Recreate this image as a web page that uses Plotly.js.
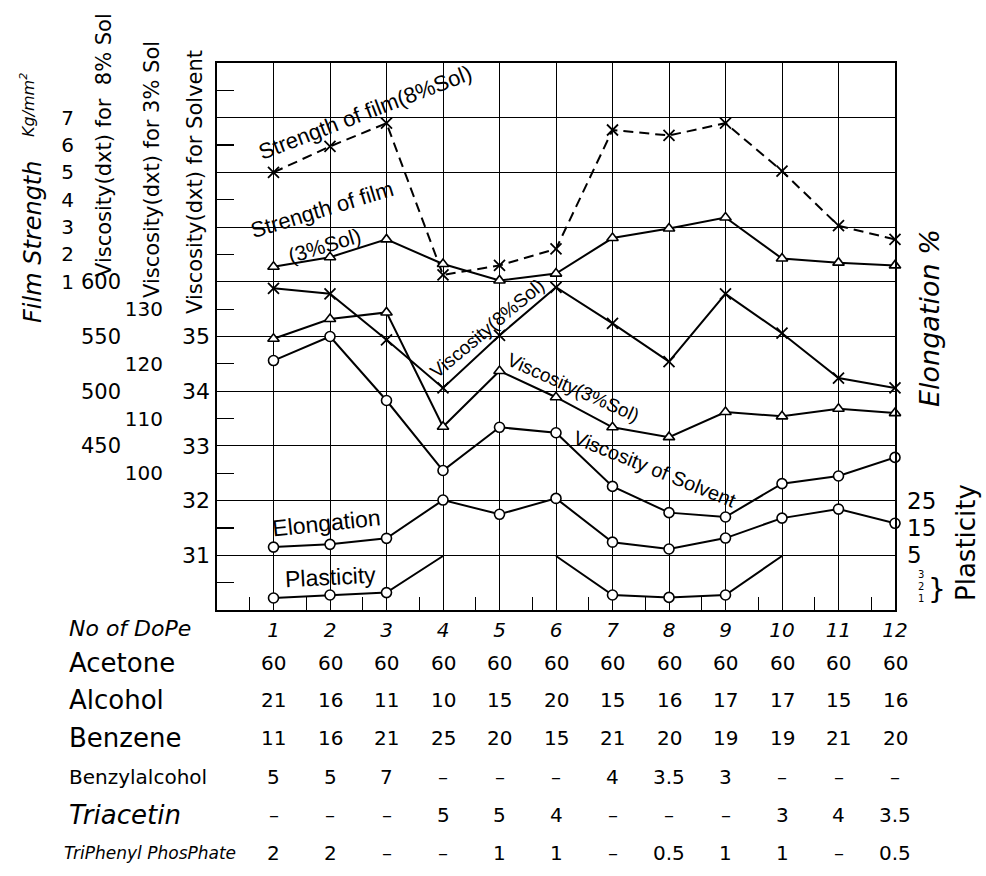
<!DOCTYPE html>
<html>
<head>
<meta charset="utf-8">
<script src="https://cdn.plot.ly/plotly-3.0.1.min.js"></script>
<style>html,body{margin:0;padding:0;background:#fff;}</style>
</head>
<body>
<div id="chart" style="width:986px;height:876px;"></div>
<script>
// ---------- data ----------
const dope = [1,2,3,4,5,6,7,8,9,10,11,12];
const strength8 = [5.0, 5.95, 6.8, 1.25, 1.6, 2.2, 6.55, 6.35, 6.8, 5.05, 3.05, 2.55];   // Kg/mm2
const strength3 = [1.55, 1.9, 2.55, 1.65, 1.05, 1.3, 2.6, 2.95, 3.35, 1.85, 1.7, 1.6];   // Kg/mm2
const visc8 = [594, 589, 547, 503, 551, 595, 562, 527, 589, 553, 512, 503];
const visc3 = [124.6, 128.2, 129.4, 108.5, 118.7, 113.9, 108.4, 106.6, 111.2, 110.4, 111.8, 111.0];
const viscSolvent = [34.56, 35.0, 33.83, 32.55, 33.34, 33.24, 32.26, 31.78, 31.70, 32.31, 32.45, 32.79];
const elongation = [8.0, 9.0, 11.2, 25.2, 20.0, 25.8, 9.8, 7.3, 11.3, 18.6, 21.9, 16.7];
// plasticity: 4.5 = off the scale (drawn to the top of the strip), null = not drawn
const plasticity = [1.0, 1.25, 1.45, 4.5, null, 4.5, 1.25, 1.05, 1.25, 4.5, null, null];

const filmTicks = [1,2,3,4,5,6,7];
const visc8Ticks = [450,500,550,600];
const visc3Ticks = [100,110,120,130];
const solventTicks = [31,32,33,34,35];
const elongTicks = [5,15,25];
const plastTicks = [1,2,3];

const rowNames = ["Acetone","Alcohol","Benzene","Benzylalcohol","Triacetin","TriPhenyl PhosPhate"];
const acetone = [60,60,60,60,60,60,60,60,60,60,60,60];
const alcohol = [21,16,11,10,15,20,15,16,17,17,15,16];
const benzene = [11,16,21,25,20,15,21,20,19,19,21,20];
const benzylalcohol = [5,5,7,null,null,null,4,3.5,3,null,null,null];
const triacetin = [null,null,null,5,5,4,null,null,null,3,4,3.5];
const triphenyl = [2,2,null,null,1,1,null,0.5,1,1,null,0.5];

// ---------- layout helpers ----------
const W = 986, H = 876;
const PL = 217, PR = 895, PT = 63, PB = 610;
const px = v => v / W;
const py = v => 1 - v / H;
const FONT = 'DejaVu Sans';

const lineStyle = {color:'black', width:2};
function markerStyle(symbol, size){
  return {symbol:symbol, size:size, color:'white', line:{color:'black', width:1.6}};
}

const plastInStrip = plasticity.map(v => (v !== null && v < 4.5) ? v : null);

const traces = [
  {x:dope, y:strength8, yaxis:'y2', mode:'lines+markers', line:{color:'black', width:2, dash:'10px,6px'},
   marker:{symbol:'x-thin', size:11, line:{color:'black', width:1.8}}, cliponaxis:false},
  {x:dope, y:strength3, yaxis:'y2', mode:'lines+markers', line:lineStyle,
   marker:markerStyle('triangle-up', 10), cliponaxis:false},
  {x:dope, y:visc8, yaxis:'y3', mode:'lines+markers', line:lineStyle,
   marker:{symbol:'x-thin', size:11, line:{color:'black', width:1.8}}, cliponaxis:false},
  {x:dope, y:visc3, yaxis:'y4', mode:'lines+markers', line:lineStyle,
   marker:markerStyle('triangle-up', 10), cliponaxis:false},
  {x:dope, y:viscSolvent, yaxis:'y5', mode:'lines+markers', line:lineStyle,
   marker:markerStyle('circle', 10), cliponaxis:false},
  {x:dope, y:elongation, yaxis:'y6', mode:'lines+markers', line:lineStyle,
   marker:markerStyle('circle', 10), cliponaxis:false},
  {x:dope, y:plasticity, yaxis:'y7', mode:'lines', line:lineStyle, connectgaps:false},
  {x:dope, y:plastInStrip, yaxis:'y7', mode:'markers', marker:markerStyle('circle', 10), cliponaxis:false}
];

const dom = [py(PB), py(PT)];
function overlayAxis(range, ticks, pos, side, size){
  return {overlaying:'y', anchor:'free', position:pos, side:side, domain:dom,
    range:range, tickmode:'array', tickvals:ticks, ticktext:ticks.map(String),
    showgrid:false, zeroline:false, showline:false, ticks:'',
    tickfont:{family:FONT, size:size, color:'black'}};
}

const annotations = [];
function ann(text, x, y, o){
  annotations.push(Object.assign({text:text, x:x, y:y, xref:'paper', yref:'paper',
    showarrow:false, xanchor:'center', yanchor:'middle',
    font:{family:FONT, size:20, color:'black'}}, o || {}));
}

// left axis titles
ann('Film Strength', px(33), py(242), {textangle:-90, font:{family:FONT, size:24, style:'italic', color:'black'}});
ann('Kg/mm<sup>2</sup>', px(27), py(105), {textangle:-90, font:{family:FONT, size:16, style:'italic', color:'black'}});
ann('Viscosity(dxt) for  8% Sol', px(104), py(145), {textangle:-90, font:{family:FONT, size:21, color:'black'}});
ann('Viscosity(dxt) for 3% Sol', px(152), py(170), {textangle:-90, font:{family:FONT, size:21, color:'black'}});
ann('Viscosity(dxt) for Solvent', px(195), py(182), {textangle:-90, font:{family:FONT, size:21, color:'black'}});
// right axis titles
ann('Elongation %', px(929), py(318), {textangle:-90, font:{family:FONT, size:27, style:'italic', color:'black'}});
ann('Plasticity', px(966), py(543), {textangle:-90, font:{family:FONT, size:26, color:'black'}});
ann('}', px(937), py(589), {font:{family:FONT, size:28, color:'black'}});

// curve labels (in data coordinates of the grid axis)
function cl(text, x, y, angle, size){
  annotations.push({text:text, x:x, y:y, xref:'x', yref:'y', showarrow:false,
    xanchor:'center', yanchor:'middle', textangle:angle,
    font:{family:'Liberation Sans', size:size, color:'black'}});
}
cl('Strength of film(8%Sol)', 2.62, 9.1, -21, 22);
cl('Strength of film', 1.86, 7.33, -17, 22);
cl('(3%Sol)', 1.9, 6.67, -17, 21);
cl('Viscosity(8%Sol)', 4.78, 5.15, -40, 19);
cl('Viscosity(3%Sol)', 6.3, 4.06, 24, 19);
cl('Viscosity of Solvent', 7.75, 2.58, 22, 20);
cl('Elongation', 1.93, 1.59, -6, 23);
cl('Plasticity', 2.0, 0.6, -3, 23);

// table below the chart
ann('No of DoPe', px(67), py(628), {xanchor:'left', font:{family:FONT, size:22, style:'italic', color:'black'}});
const rows = [acetone, alcohol, benzene, benzylalcohol, triacetin, triphenyl];
const rowY = [663, 700, 738, 777, 815, 853];
const rowFont = [
  {size:26, style:'normal'}, {size:26, style:'normal'}, {size:26, style:'normal'},
  {size:20, style:'normal'}, {size:26, style:'italic'}, {size:17, style:'italic'}];
rows.forEach((vals, r) => {
  ann(rowNames[r], px(rowNames[r].startsWith('TriPhenyl') ? 62 : 67), py(rowY[r]),
      {xanchor:'left', font:{family:FONT, size:rowFont[r].size, style:rowFont[r].style, color:'black'}});
  vals.forEach((v, i) => {
    annotations.push({text: v === null ? '–' : String(v), x: dope[i], y: py(rowY[r]),
      xref:'x', yref:'paper', showarrow:false, xanchor:'center', yanchor:'middle',
      font:{family:FONT, size:20, color:'black'}});
  });
});

const layout = {
  width:W, height:H, margin:{l:0, r:0, t:0, b:0},
  paper_bgcolor:'white', plot_bgcolor:'white', showlegend:false,
  font:{family:FONT, color:'black'},
  xaxis:{domain:[px(PL), px(PR)], range:[0,12], tickmode:'array', tickvals:dope, ticktext:dope.map(String),
    showgrid:true, gridcolor:'black', gridwidth:1, showline:true, mirror:true, linecolor:'black', linewidth:2,
    zeroline:false, ticks:'', ticklabelstandoff:1,
    tickfont:{family:FONT, size:20, style:'italic', color:'black'},
    minor:{tickmode:'linear', tick0:0.58, dtick:1, ticks:'inside', ticklen:13, tickwidth:1.2, tickcolor:'black', showgrid:false}},
  yaxis:{domain:dom, range:[0,10], tickmode:'linear', tick0:0, dtick:1, showticklabels:false,
    showgrid:true, gridcolor:'black', gridwidth:1, showline:true, mirror:true, linecolor:'black', linewidth:2,
    zeroline:false, ticks:'',
    minor:{tickmode:'linear', tick0:0.5, dtick:1, ticks:'inside', ticklen:17, tickwidth:1.2, tickcolor:'black', showgrid:false}},
  yaxis2: overlayAxis([-11, 9], filmTicks, px(74), 'left', 20),
  yaxis3: overlayAxis([300, 800], visc8Ticks, px(121), 'left', 21),
  yaxis4: overlayAxis([75, 175], visc3Ticks, px(163), 'left', 20),
  yaxis5: overlayAxis([30, 40], solventTicks, px(210), 'left', 22),
  yaxis6: overlayAxis([-15, 185], elongTicks, px(906), 'right', 23),
  yaxis7: overlayAxis([0, 45.6], plastTicks, px(917), 'right', 10),
  annotations: annotations
};

Plotly.newPlot('chart', traces, layout, {displayModeBar:false, staticPlot:true});
</script>
</body>
</html>
